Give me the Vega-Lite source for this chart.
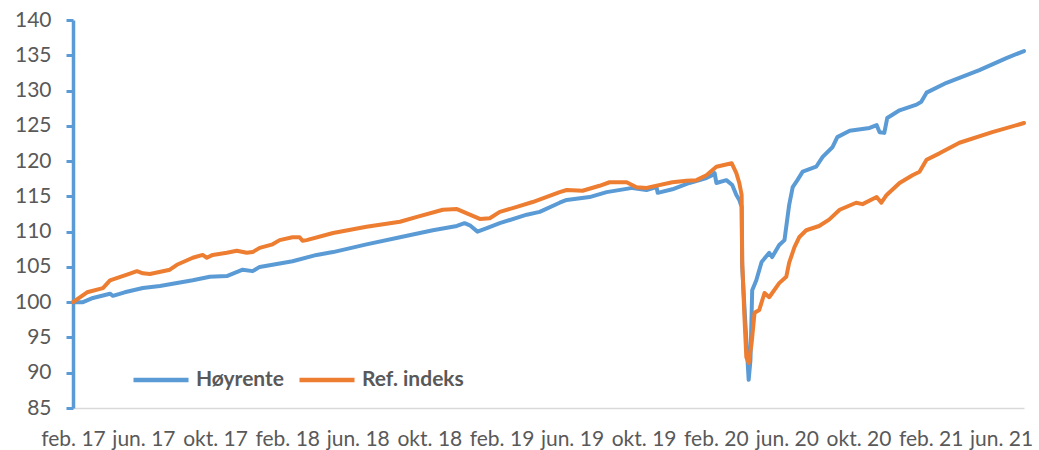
{
  "$schema": "https://vega.github.io/schema/vega-lite/v6.json",
  "width": 951,
  "height": 388,
  "autosize": "none",
  "padding": {"left": 73, "top": 20, "right": 15, "bottom": 42},
  "background": "white",
  "config": {"view": {"stroke": null}, "font": "Lato"},
  "data": {"values": [
    {"date":"2017-02-01","series":"Høyrente","value":100.0},
    {"date":"2017-02-18","series":"Høyrente","value":100.0},
    {"date":"2017-03-07","series":"Høyrente","value":100.6},
    {"date":"2017-04-05","series":"Høyrente","value":101.2},
    {"date":"2017-04-10","series":"Høyrente","value":100.9},
    {"date":"2017-04-30","series":"Høyrente","value":101.4},
    {"date":"2017-05-31","series":"Høyrente","value":102.0},
    {"date":"2017-06-29","series":"Høyrente","value":102.3},
    {"date":"2017-08-24","series":"Høyrente","value":103.1},
    {"date":"2017-09-22","series":"Høyrente","value":103.6},
    {"date":"2017-10-21","series":"Høyrente","value":103.7},
    {"date":"2017-11-17","series":"Høyrente","value":104.6},
    {"date":"2017-12-04","series":"Høyrente","value":104.4},
    {"date":"2017-12-16","series":"Høyrente","value":105.0},
    {"date":"2018-02-10","series":"Høyrente","value":105.8},
    {"date":"2018-03-23","series":"Høyrente","value":106.7},
    {"date":"2018-04-20","series":"Høyrente","value":107.1},
    {"date":"2018-06-16","series":"Høyrente","value":108.2},
    {"date":"2018-08-12","series":"Høyrente","value":109.2},
    {"date":"2018-10-07","series":"Høyrente","value":110.2},
    {"date":"2018-11-17","series":"Høyrente","value":110.8},
    {"date":"2018-11-30","series":"Høyrente","value":111.2},
    {"date":"2018-12-09","series":"Høyrente","value":110.9},
    {"date":"2018-12-22","series":"Høyrente","value":110.0},
    {"date":"2019-01-07","series":"Høyrente","value":110.5},
    {"date":"2019-01-29","series":"Høyrente","value":111.2},
    {"date":"2019-03-16","series":"Høyrente","value":112.4},
    {"date":"2019-04-07","series":"Høyrente","value":112.8},
    {"date":"2019-05-11","series":"Høyrente","value":114.1},
    {"date":"2019-05-23","series":"Høyrente","value":114.5},
    {"date":"2019-07-01","series":"Høyrente","value":114.9},
    {"date":"2019-07-30","series":"Høyrente","value":115.6},
    {"date":"2019-09-12","series":"Høyrente","value":116.2},
    {"date":"2019-10-06","series":"Høyrente","value":115.9},
    {"date":"2019-10-23","series":"Høyrente","value":116.3},
    {"date":"2019-10-25","series":"Høyrente","value":115.5},
    {"date":"2019-11-19","series":"Høyrente","value":116.0},
    {"date":"2019-12-18","series":"Høyrente","value":116.9},
    {"date":"2020-01-16","series":"Høyrente","value":117.6},
    {"date":"2020-01-26","series":"Høyrente","value":118.0},
    {"date":"2020-01-30","series":"Høyrente","value":118.3},
    {"date":"2020-02-02","series":"Høyrente","value":116.9},
    {"date":"2020-02-19","series":"Høyrente","value":117.3},
    {"date":"2020-02-29","series":"Høyrente","value":116.6},
    {"date":"2020-03-07","series":"Høyrente","value":115.2},
    {"date":"2020-03-12","series":"Høyrente","value":114.5},
    {"date":"2020-03-16","series":"Høyrente","value":113.5},
    {"date":"2020-03-17","series":"Høyrente","value":105.0},
    {"date":"2020-03-22","series":"Høyrente","value":97.5},
    {"date":"2020-03-28","series":"Høyrente","value":89.0},
    {"date":"2020-03-31","series":"Høyrente","value":91.8},
    {"date":"2020-04-03","series":"Høyrente","value":101.7},
    {"date":"2020-04-10","series":"Høyrente","value":103.1},
    {"date":"2020-04-19","series":"Høyrente","value":105.7},
    {"date":"2020-05-02","series":"Høyrente","value":107.0},
    {"date":"2020-05-07","series":"Høyrente","value":106.4},
    {"date":"2020-05-19","series":"Høyrente","value":108.1},
    {"date":"2020-05-28","series":"Høyrente","value":108.8},
    {"date":"2020-05-31","series":"Høyrente","value":110.7},
    {"date":"2020-06-05","series":"Høyrente","value":113.8},
    {"date":"2020-06-11","series":"Høyrente","value":116.3},
    {"date":"2020-06-19","series":"Høyrente","value":117.3},
    {"date":"2020-06-28","series":"Høyrente","value":118.5},
    {"date":"2020-07-21","series":"Høyrente","value":119.2},
    {"date":"2020-08-01","series":"Høyrente","value":120.6},
    {"date":"2020-08-18","series":"Høyrente","value":122.0},
    {"date":"2020-08-26","series":"Høyrente","value":123.4},
    {"date":"2020-09-16","series":"Høyrente","value":124.3},
    {"date":"2020-10-20","series":"Høyrente","value":124.7},
    {"date":"2020-11-01","series":"Høyrente","value":125.1},
    {"date":"2020-11-06","series":"Høyrente","value":124.1},
    {"date":"2020-11-14","series":"Høyrente","value":124.0},
    {"date":"2020-11-19","series":"Høyrente","value":126.1},
    {"date":"2020-12-10","series":"Høyrente","value":127.2},
    {"date":"2021-01-08","series":"Høyrente","value":128.0},
    {"date":"2021-01-16","series":"Høyrente","value":128.4},
    {"date":"2021-01-25","series":"Høyrente","value":129.7},
    {"date":"2021-02-28","series":"Høyrente","value":131.1},
    {"date":"2021-04-25","series":"Høyrente","value":132.9},
    {"date":"2021-06-10","series":"Høyrente","value":134.6},
    {"date":"2021-07-10","series":"Høyrente","value":135.6},
    {"date":"2017-02-01","series":"Ref. indeks","value":100.0},
    {"date":"2017-02-25","series":"Ref. indeks","value":101.4},
    {"date":"2017-03-24","series":"Ref. indeks","value":102.0},
    {"date":"2017-04-05","series":"Ref. indeks","value":103.1},
    {"date":"2017-05-04","series":"Ref. indeks","value":103.9},
    {"date":"2017-05-21","series":"Ref. indeks","value":104.4},
    {"date":"2017-05-31","series":"Ref. indeks","value":104.1},
    {"date":"2017-06-12","series":"Ref. indeks","value":104.0},
    {"date":"2017-07-16","series":"Ref. indeks","value":104.6},
    {"date":"2017-07-28","series":"Ref. indeks","value":105.3},
    {"date":"2017-08-24","series":"Ref. indeks","value":106.3},
    {"date":"2017-09-10","series":"Ref. indeks","value":106.7},
    {"date":"2017-09-17","series":"Ref. indeks","value":106.3},
    {"date":"2017-09-27","series":"Ref. indeks","value":106.7},
    {"date":"2017-10-21","series":"Ref. indeks","value":107.0},
    {"date":"2017-11-07","series":"Ref. indeks","value":107.3},
    {"date":"2017-11-24","series":"Ref. indeks","value":107.0},
    {"date":"2017-12-04","series":"Ref. indeks","value":107.1},
    {"date":"2017-12-16","series":"Ref. indeks","value":107.7},
    {"date":"2018-01-07","series":"Ref. indeks","value":108.2},
    {"date":"2018-01-19","series":"Ref. indeks","value":108.8},
    {"date":"2018-02-10","series":"Ref. indeks","value":109.2},
    {"date":"2018-02-22","series":"Ref. indeks","value":109.2},
    {"date":"2018-02-27","series":"Ref. indeks","value":108.7},
    {"date":"2018-03-06","series":"Ref. indeks","value":108.8},
    {"date":"2018-04-20","series":"Ref. indeks","value":109.8},
    {"date":"2018-06-16","series":"Ref. indeks","value":110.7},
    {"date":"2018-08-12","series":"Ref. indeks","value":111.4},
    {"date":"2018-09-10","series":"Ref. indeks","value":112.1},
    {"date":"2018-10-24","series":"Ref. indeks","value":113.1},
    {"date":"2018-11-17","series":"Ref. indeks","value":113.2},
    {"date":"2018-12-04","series":"Ref. indeks","value":112.6},
    {"date":"2018-12-26","series":"Ref. indeks","value":111.8},
    {"date":"2019-01-12","series":"Ref. indeks","value":111.9},
    {"date":"2019-01-29","series":"Ref. indeks","value":112.8},
    {"date":"2019-02-27","series":"Ref. indeks","value":113.5},
    {"date":"2019-03-26","series":"Ref. indeks","value":114.2},
    {"date":"2019-05-11","series":"Ref. indeks","value":115.6},
    {"date":"2019-05-23","series":"Ref. indeks","value":115.9},
    {"date":"2019-06-19","series":"Ref. indeks","value":115.8},
    {"date":"2019-07-18","series":"Ref. indeks","value":116.5},
    {"date":"2019-08-04","series":"Ref. indeks","value":117.0},
    {"date":"2019-09-02","series":"Ref. indeks","value":117.0},
    {"date":"2019-09-19","series":"Ref. indeks","value":116.3},
    {"date":"2019-10-06","series":"Ref. indeks","value":116.2},
    {"date":"2019-11-19","series":"Ref. indeks","value":117.0},
    {"date":"2019-12-13","series":"Ref. indeks","value":117.2},
    {"date":"2019-12-30","series":"Ref. indeks","value":117.3},
    {"date":"2020-01-16","series":"Ref. indeks","value":118.0},
    {"date":"2020-02-02","series":"Ref. indeks","value":119.2},
    {"date":"2020-02-28","series":"Ref. indeks","value":119.7},
    {"date":"2020-03-07","series":"Ref. indeks","value":118.3},
    {"date":"2020-03-12","series":"Ref. indeks","value":116.9},
    {"date":"2020-03-16","series":"Ref. indeks","value":115.2},
    {"date":"2020-03-17","series":"Ref. indeks","value":105.6},
    {"date":"2020-03-21","series":"Ref. indeks","value":97.5},
    {"date":"2020-03-24","series":"Ref. indeks","value":92.2},
    {"date":"2020-03-28","series":"Ref. indeks","value":91.4},
    {"date":"2020-04-02","series":"Ref. indeks","value":94.2},
    {"date":"2020-04-07","series":"Ref. indeks","value":98.5},
    {"date":"2020-04-15","series":"Ref. indeks","value":98.9},
    {"date":"2020-04-24","series":"Ref. indeks","value":101.3},
    {"date":"2020-05-02","series":"Ref. indeks","value":100.7},
    {"date":"2020-05-19","series":"Ref. indeks","value":102.7},
    {"date":"2020-05-31","series":"Ref. indeks","value":103.6},
    {"date":"2020-06-05","series":"Ref. indeks","value":105.6},
    {"date":"2020-06-14","series":"Ref. indeks","value":107.8},
    {"date":"2020-06-22","series":"Ref. indeks","value":109.2},
    {"date":"2020-07-04","series":"Ref. indeks","value":110.2},
    {"date":"2020-07-26","series":"Ref. indeks","value":110.8},
    {"date":"2020-08-12","series":"Ref. indeks","value":111.7},
    {"date":"2020-08-30","series":"Ref. indeks","value":113.1},
    {"date":"2020-09-27","series":"Ref. indeks","value":114.1},
    {"date":"2020-10-08","series":"Ref. indeks","value":113.9},
    {"date":"2020-11-01","series":"Ref. indeks","value":114.9},
    {"date":"2020-11-09","series":"Ref. indeks","value":114.1},
    {"date":"2020-11-18","series":"Ref. indeks","value":115.2},
    {"date":"2020-12-10","series":"Ref. indeks","value":116.9},
    {"date":"2021-01-01","series":"Ref. indeks","value":118.0},
    {"date":"2021-01-13","series":"Ref. indeks","value":118.5},
    {"date":"2021-01-25","series":"Ref. indeks","value":120.2},
    {"date":"2021-02-16","series":"Ref. indeks","value":121.1},
    {"date":"2021-03-22","series":"Ref. indeks","value":122.6},
    {"date":"2021-05-17","series":"Ref. indeks","value":124.1},
    {"date":"2021-07-10","series":"Ref. indeks","value":125.4}
  ]},
  "mark": {"type": "line", "strokeWidth": 4, "strokeJoin": "round", "strokeCap": "round"},
  "encoding": {
    "x": {
      "field": "date",
      "type": "temporal",
      "scale": {
        "type": "utc",
        "nice": false,
        "domain": [
          {"year": 2017, "month": 2, "date": 1, "utc": true},
          {"year": 2021, "month": 7, "date": 10, "utc": true}
        ]
      },
      "axis": {
        "title": null,
        "grid": false,
        "ticks": false,
        "domainColor": "#D9D9D9",
        "domainWidth": 1.5,
        "values": [
          {"year": 2017, "month": 2, "date": 1, "utc": true},
          {"year": 2017, "month": 6, "date": 1, "utc": true},
          {"year": 2017, "month": 10, "date": 1, "utc": true},
          {"year": 2018, "month": 2, "date": 1, "utc": true},
          {"year": 2018, "month": 6, "date": 1, "utc": true},
          {"year": 2018, "month": 10, "date": 1, "utc": true},
          {"year": 2019, "month": 2, "date": 1, "utc": true},
          {"year": 2019, "month": 6, "date": 1, "utc": true},
          {"year": 2019, "month": 10, "date": 1, "utc": true},
          {"year": 2020, "month": 2, "date": 1, "utc": true},
          {"year": 2020, "month": 6, "date": 1, "utc": true},
          {"year": 2020, "month": 10, "date": 1, "utc": true},
          {"year": 2021, "month": 2, "date": 1, "utc": true},
          {"year": 2021, "month": 6, "date": 1, "utc": true}
        ],
        "labelExpr": "['jan.','feb.','mar.','apr.','mai','jun.','jul.','aug.','sep.','okt.','nov.','des.'][utcmonth(datum.value)] + ' ' + utcFormat(datum.value, '%y')",
        "labelFont": "Lato",
        "labelFontSize": 21,
        "labelColor": "#595959",
        "labelPadding": 20,
        "labelOverlap": false,
        "labelFlush": false,
        "labelBound": false
      }
    },
    "y": {
      "field": "value",
      "type": "quantitative",
      "scale": {"domain": [85, 140], "nice": false, "zero": false},
      "axis": {
        "title": null,
        "grid": false,
        "values": [85, 90, 95, 100, 105, 110, 115, 120, 125, 130, 135, 140],
        "domainColor": "#5B9BD5",
        "domainWidth": 3.5,
        "tickColor": "#5B9BD5",
        "tickWidth": 3,
        "tickSize": 7,
        "labelPadding": 15,
        "labelFont": "Lato",
        "labelFontSize": 21,
        "labelColor": "#595959"
      }
    },
    "color": {
      "field": "series",
      "type": "nominal",
      "scale": {"domain": ["Høyrente", "Ref. indeks"], "range": ["#5B9BD5", "#ED7D31"]},
      "legend": {
        "title": null,
        "orient": "none",
        "legendX": 58,
        "legendY": 330,
        "direction": "horizontal",
        "symbolType": "stroke",
        "symbolSize": 3025,
        "symbolStrokeWidth": 4.5,
        "labelFont": "Lato",
        "labelFontSize": 21,
        "labelFontWeight": "bold",
        "labelColor": "#595959",
        "labelOffset": 5,
        "columnPadding": 6,
        "labelLimit": 300
      }
    }
  }
}
